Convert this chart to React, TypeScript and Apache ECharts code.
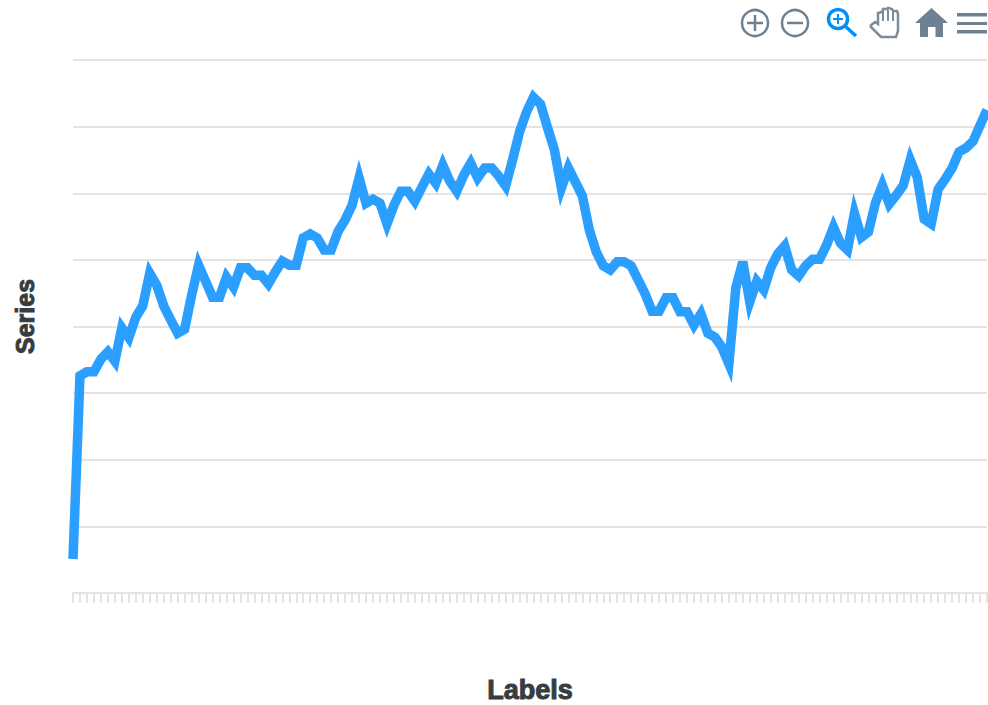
import React, { useEffect, useRef } from "react";
import * as echarts from "echarts";

const seriesValues = [
  5.1, 32.6, 33.2, 33.2, 35.1, 36.2, 34.8, 39.8, 38.3, 41.4, 43.1, 48.0, 46.2, 43.1, 41.0, 39.0, 39.6, 44.7, 49.2, 46.8,
  44.4, 44.4, 47.4, 45.9, 48.8, 48.8, 47.7, 47.7, 46.4, 48.2, 49.8, 49.2, 49.2, 53.3, 53.9, 53.3, 51.5, 51.5, 54.3, 56.0,
  58.2, 62.3, 58.5, 59.1, 58.5, 55.4, 58.2, 60.3, 60.3, 58.8, 60.9, 62.9, 61.5, 64.2, 61.8, 60.3, 62.7, 64.5, 62.3, 63.8,
  63.8, 62.6, 61.1, 65.0, 69.2, 72.2, 74.4, 73.4, 69.9, 66.5, 60.8, 63.8, 61.7, 59.6, 54.5, 51.2, 49.1, 48.5, 49.7, 49.7,
  49.1, 47.0, 44.9, 42.3, 42.3, 44.3, 44.3, 42.2, 42.2, 40.2, 41.9, 39.0, 38.4, 36.9, 34.4, 45.8, 49.7, 43.7, 46.8, 45.5,
  48.8, 50.9, 52.1, 48.5, 47.6, 49.1, 50.1, 50.1, 52.2, 54.9, 52.5, 51.5, 57.0, 53.4, 54.2, 58.5, 61.2, 58.4, 59.7, 61.2,
  65.0, 62.4, 56.1, 55.4, 60.6, 62.1, 63.8, 66.2, 66.8, 67.8, 70.2, 72.5,
];
const categories = seriesValues.map((_, i) => String(i + 1));
const xAxisTitle = "Labels";
const yAxisTitle = "Series";

const ICON = "#6e8192";
const BLUE = "#008ffb";
const GRID_LINE = "#e4e4e4";
const TITLE_FONT = {
  fontFamily: "'Liberation Sans', Arial, sans-serif",
  fontWeight: "bold" as const,
  fontSize: 25,
  color: "#373d3f",
  textBorderColor: "#373d3f",
  textBorderWidth: 1,
};

const stroke = (color: string, lineWidth: number) => ({ stroke: color, lineWidth, fill: "none" });

const toolbar = [
  { type: "circle", shape: { cx: 755, cy: 23, r: 13 }, style: stroke(ICON, 2.5) },
  { type: "line", shape: { x1: 747, y1: 23, x2: 763, y2: 23 }, style: stroke(ICON, 2.5) },
  { type: "line", shape: { x1: 755, y1: 15, x2: 755, y2: 31 }, style: stroke(ICON, 2.5) },
  { type: "circle", shape: { cx: 795, cy: 23, r: 13 }, style: stroke(ICON, 2.5) },
  { type: "line", shape: { x1: 787, y1: 23, x2: 803, y2: 23 }, style: stroke(ICON, 2.5) },
  { type: "circle", shape: { cx: 838, cy: 19, r: 9.5 }, style: stroke(BLUE, 3.5) },
  { type: "line", shape: { x1: 845, y1: 26, x2: 856, y2: 36 }, style: stroke(BLUE, 3.5) },
  { type: "line", shape: { x1: 833, y1: 19, x2: 843, y2: 19 }, style: stroke(BLUE, 2) },
  { type: "line", shape: { x1: 838, y1: 14, x2: 838, y2: 24 }, style: stroke(BLUE, 2) },
  {
    type: "polyline",
    shape: {
      points: [
        [870, 26], [875, 22], [878, 24], [878, 13], [882, 12], [883, 9], [887, 9], [888, 8], [892, 9], [893, 11],
        [897, 11], [898, 14], [898, 31], [896, 37], [881, 37], [870, 26],
      ],
    },
    style: stroke("#7d8d9b", 2.5),
  },
  { type: "line", shape: { x1: 883, y1: 11, x2: 883, y2: 21 }, style: stroke("#7d8d9b", 2) },
  { type: "line", shape: { x1: 888, y1: 10, x2: 888, y2: 21 }, style: stroke("#7d8d9b", 2) },
  { type: "line", shape: { x1: 893, y1: 11, x2: 893, y2: 21 }, style: stroke("#7d8d9b", 2) },
  {
    type: "polygon",
    shape: {
      points: [
        [931.5, 8], [948, 23], [943, 23], [943, 37], [935.5, 37], [935.5, 27], [928, 27], [928, 37], [920, 37],
        [920, 23], [915, 23],
      ],
    },
    style: { fill: ICON },
  },
  { type: "rect", shape: { x: 957, y: 13, width: 30, height: 3.5 }, style: { fill: ICON } },
  { type: "rect", shape: { x: 957, y: 22, width: 30, height: 3 }, style: { fill: ICON } },
  { type: "rect", shape: { x: 957, y: 30, width: 30, height: 3.5 }, style: { fill: ICON } },
];

export default function App() {
  const ref = useRef<HTMLDivElement>(null);
  useEffect(() => {
    const chart = echarts.init(ref.current!, undefined, { renderer: "svg" });
    chart.setOption({
      animation: false,
      backgroundColor: "#ffffff",
      grid: { left: 73, right: 1, top: 60, bottom: 112, containLabel: false, outerBoundsMode: "none" },
      xAxis: {
        type: "category",
        data: categories,
        boundaryGap: false,
        name: xAxisTitle,
        nameLocation: "middle",
        nameGap: 83,
        nameTextStyle: { ...TITLE_FONT, fontSize: 27 },
        axisLine: { show: true, lineStyle: { color: GRID_LINE, width: 2 } },
        axisTick: { show: true, interval: 0, length: 10, lineStyle: { color: GRID_LINE, width: 2 } },
        axisLabel: { show: false },
        splitLine: { show: false },
      },
      yAxis: {
        type: "value",
        min: 0,
        max: 80,
        interval: 10,
        name: yAxisTitle,
        nameLocation: "middle",
        nameGap: 36,
        nameRotate: 90,
        nameTextStyle: { ...TITLE_FONT, padding: [0, 0, 0, 20] },
        axisLine: { show: false },
        axisTick: { show: false },
        axisLabel: { show: false },
        splitLine: { show: true, lineStyle: { color: GRID_LINE, width: 2 } },
      },
      series: [
        {
          type: "line",
          data: seriesValues,
          clip: false,
          showSymbol: false,
          smooth: false,
          lineStyle: { color: "#2a9fff", width: 9.5, cap: "butt", join: "miter", miterLimit: 4.45 },
        },
      ],
      graphic: { elements: toolbar },
    });
    return () => chart.dispose();
  }, []);
  return <div ref={ref} style={{ position: "absolute", left: 0, top: 0, width: 988, height: 705 }} />;
}
